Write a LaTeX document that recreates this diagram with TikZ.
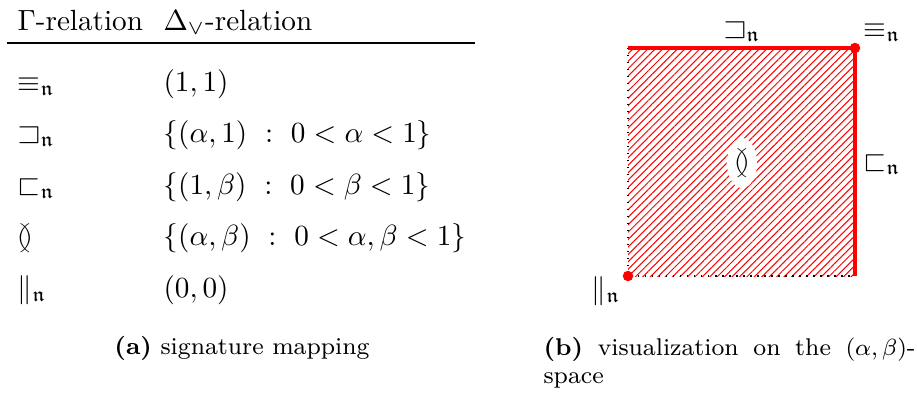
\documentclass[tikz,border=0pt]{standalone}
\usepackage{amsmath,amssymb}
\usepackage{tikz}
\usetikzlibrary{positioning,patterns.meta,shapes.geometric}
\tikzset{
  % table cells
  cell/.style={anchor=base west,inner sep=0pt},
  % space diagram
  relmark/.style={anchor=base,inner sep=0pt},
  edgeline/.style={red,line width=1.2pt},
  openline/.style={black,dotted,line width=0.4pt},
  hatch/.style={pattern={Lines[angle=45,distance=1.8pt,line width=0.35pt]},pattern color=red},
  cornerdot/.style={circle,fill=red,inner sep=0pt,minimum size=3.6pt},
  % sub captions
  subcap/.style={inner sep=0pt,font=\fontsize{8.3}{9.8}\selectfont},
}
\newcommand{\nrel}[1]{#1_{\mathfrak{n}}}

\begin{document}
\begin{tikzpicture}[x=0.3425pt,y=-0.3425pt]
\useasboundingbox (0,0) rectangle (917,392);
% (a) signature table
\node[cell] (hdrgamma) at (17,30) {$\Gamma$-relation};
\node[cell] (hdrdelta) at (163,30) {$\Delta_{\vee}$-relation};
\coordinate (rulel) at (7,43);
\coordinate (ruler) at (475,43);
\draw[line width=0.7pt] (rulel) -- (ruler);
\node[cell] (eqrel) at (17,91) {$\nrel{\equiv}$};
\node[cell] (eqval) at (163,91) {$(1,1)$};
\node[cell] (suprel) at (17,142) {$\nrel{\sqsupset}$};
\node[cell] (supval) at (163,142) {$\{(\alpha,1)\ :\ 0<\alpha<1\}$};
\node[cell] (subrel) at (17,194) {$\nrel{\sqsubset}$};
\node[cell] (subval) at (163,194) {$\{(1,\beta)\ :\ 0<\beta<1\}$};
\node[cell] (btwrel) at (17,245) {$\between$};
\node[cell] (btwval) at (163,245) {$\{(\alpha,\beta)\ :\ 0<\alpha,\beta<1\}$};
\node[cell] (parrel) at (17,297) {$\nrel{\|}$};
\node[cell] (parval) at (163,297) {$(0,0)$};
\node[subcap,anchor=base] (capa) at (242,354) {\textbf{(a)} signature mapping};
% (b) the (alpha,beta)-space
\coordinate (nw) at (628,48);
\coordinate (ne) at (855,48);
\coordinate (se) at (855,276);
\coordinate (sw) at (628,276);
\fill[hatch] (sw) rectangle (ne);
\draw[openline] (nw) -- (sw) -- (se);
\draw[edgeline] (nw) -- (ne) -- (se);
\node[cornerdot] (eqdot) at (ne) {};
\node[cornerdot] (pardot) at (sw) {};
\node[ellipse,fill=white,inner sep=1pt,minimum width=10.3pt] (btwmark) at (742,163) {$\between$};
\node[relmark] (suplbl) at (742,37) {$\nrel{\sqsupset}$};
\node[relmark] (eqlbl) at (882,37) {$\nrel{\equiv}$};
\node[relmark] (sublbl) at (882,170) {$\nrel{\sqsubset}$};
\node[relmark] (parlbl) at (606,298) {$\nrel{\|}$};
\node[subcap,anchor=base west,text width=127.4pt,align=justify] (capb) at (543,355)
  {\textbf{(b)} visualization on the $(\alpha,\beta)$-\linebreak space};
\end{tikzpicture}
\end{document}
